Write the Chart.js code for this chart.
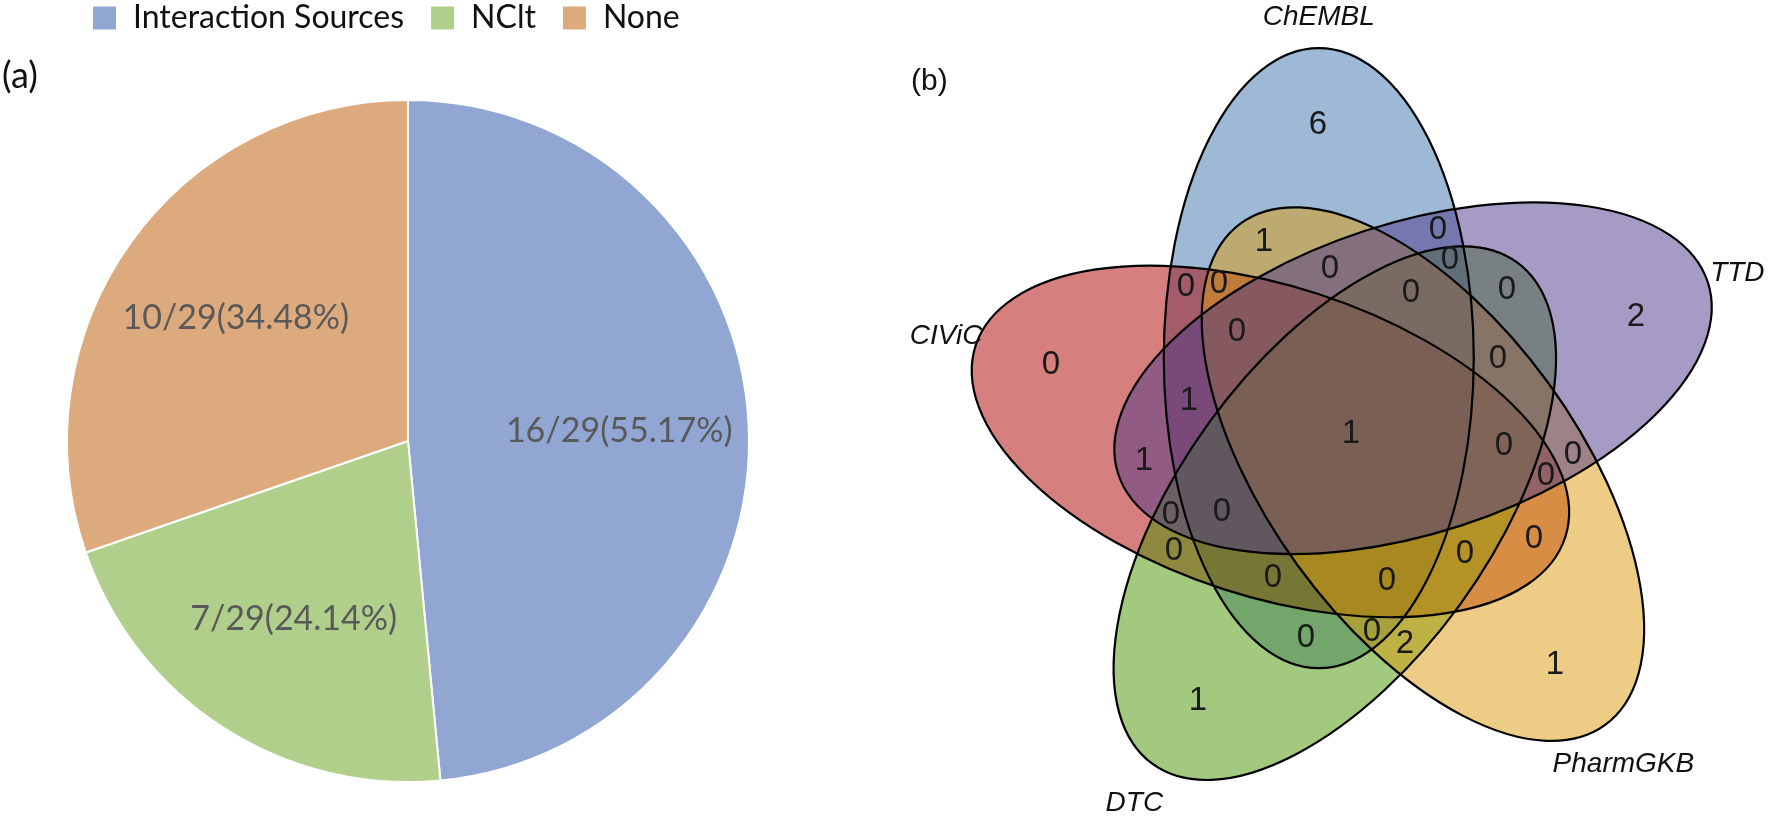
<!DOCTYPE html>
<html lang="en">
<head>
<meta charset="utf-8" />
<title>Drug interaction sources</title>
<script src="https://cdn.jsdelivr.net/npm/chart.js"></script>
<style>
  html, body { margin: 0; padding: 0; background: #fff; }
  #wrap { position: relative; width: 1772px; height: 820px; overflow: hidden; }
  #pie { position: absolute; left: 0; top: 0; }
  #venn { position: absolute; left: 744px; top: 0; }
  .tag { position: absolute; color: #111; white-space: nowrap; }
  #tagA { left: 2px; top: 52px; font: 36px Lato, sans-serif; }
  #tagB { left: 911px; top: 63px; font: 30px "Liberation Sans", Arial, sans-serif; }
</style>
</head>
<body>
<div id="wrap">
  <canvas id="pie" width="760" height="838"></canvas>
  <canvas id="venn" width="1028" height="820"></canvas>
  <div class="tag" id="tagA">(a)</div>
  <div class="tag" id="tagB">(b)</div>
</div>
<script>
// (a) pie
const pieLabels = ['Interaction Sources', 'NClt', 'None'];
const pieCounts = [16, 7, 10];
const drugTotal = 29;
const pieColors = ['#92A6D4', '#B0CF8B', '#DDAA7E'];

// (b) venn, one count per region (sets joined by &)
const setNames = ['ChEMBL', 'TTD', 'PharmGKB', 'DTC', 'CIViC'];
const regionNames = [
  'ChEMBL', 'TTD', 'PharmGKB', 'DTC', 'CIViC',
  'ChEMBL&TTD', 'ChEMBL&PharmGKB', 'ChEMBL&DTC', 'ChEMBL&CIViC', 'TTD&PharmGKB',
  'TTD&DTC', 'TTD&CIViC', 'PharmGKB&DTC', 'PharmGKB&CIViC', 'DTC&CIViC',
  'ChEMBL&TTD&PharmGKB', 'ChEMBL&TTD&DTC', 'ChEMBL&TTD&CIViC', 'ChEMBL&PharmGKB&DTC', 'ChEMBL&PharmGKB&CIViC',
  'ChEMBL&DTC&CIViC', 'TTD&PharmGKB&DTC', 'TTD&PharmGKB&CIViC', 'TTD&DTC&CIViC', 'PharmGKB&DTC&CIViC',
  'ChEMBL&TTD&PharmGKB&DTC', 'ChEMBL&TTD&PharmGKB&CIViC', 'ChEMBL&TTD&DTC&CIViC', 'ChEMBL&PharmGKB&DTC&CIViC', 'TTD&PharmGKB&DTC&CIViC',
  'ChEMBL&TTD&PharmGKB&DTC&CIViC'
];
const regionCounts = [
  6, 2, 1, 1, 0,
  0, 1, 0, 0, 0,
  0, 1, 2, 0, 0,
  0, 0, 1, 0, 0,
  0, 0, 0, 0, 0,
  0, 0, 0, 0, 0,
  1
];

// venn styling / geometry (page pixels)
const setColors = ['rgba(59,115,171,0.5)', 'rgba(77,55,137,0.5)', 'rgba(219,155,11,0.5)', 'rgba(71,147,0,0.5)', 'rgba(173,0,0,0.5)'];
const drawOrder = ['ChEMBL', 'CIViC', 'DTC', 'PharmGKB', 'TTD'];
const vennMid = { x: 1352, y: 433 };
const vennDist = 82, vennTurn = -23.9, semiMinor = 155, semiMajor = 310, nameGap = 31;

const rad = d => d * Math.PI / 180;
const shapes = setNames.map((name, k) => {
  const dir = rad(vennTurn + 72 * k);
  return { name, cx: vennMid.x + vennDist * Math.sin(dir), cy: vennMid.y - vennDist * Math.cos(dir), rot: rad(72 * k) };
});

function local(s, px, py) {
  const dx = px - s.cx, dy = py - s.cy;
  return { u: dx * Math.cos(s.rot) + dy * Math.sin(s.rot), v: -dx * Math.sin(s.rot) + dy * Math.cos(s.rot) };
}

// place each count where its region is widest
function regionSpots() {
  const best = {};
  for (let x = 880; x <= 1770; x += 3) {
    for (let y = 20; y <= 810; y += 3) {
      let mask = 0, clear = Infinity;
      shapes.forEach((s, i) => {
        const { u, v } = local(s, x, y);
        const F = Math.hypot(u / semiMinor, v / semiMajor);
        if (F < 1) mask |= 1 << i;
        const g = Math.hypot(u / (semiMinor * semiMinor), v / (semiMajor * semiMajor)) / Math.max(F, 1e-6);
        clear = Math.min(clear, Math.abs(F - 1) / Math.max(g, 1e-9));
      });
      if (mask && (!best[mask] || clear > best[mask].clear)) best[mask] = { x, y, clear };
    }
  }
  return best;
}
const spots = regionSpots();
const regionPoints = regionNames.map((key, i) => {
  const mask = key.split('&').reduce((m, n) => m | (1 << setNames.indexOf(n)), 0);
  const p = spots[mask] || { x: vennMid.x, y: vennMid.y };
  return { x: p.x, y: p.y, n: regionCounts[i] };
});

const pieValueLabels = {
  id: 'pieValueLabels',
  afterDatasetsDraw(chart) {
    const ctx = chart.ctx;
    ctx.save();
    ctx.font = '34px Lato, sans-serif';
    ctx.fillStyle = '#595959';
    ctx.textAlign = 'center';
    ctx.textBaseline = 'middle';
    chart.getDatasetMeta(0).data.forEach((arc, i) => {
      const mid = (arc.startAngle + arc.endAngle) / 2;
      const r = arc.outerRadius * 0.62;
      const v = pieCounts[i];
      ctx.fillText(v + '/' + drugTotal + '(' + (v / drugTotal * 100).toFixed(2) + '%)',
        arc.x + Math.cos(mid) * r, arc.y + Math.sin(mid) * r);
    });
    ctx.restore();
  }
};

new Chart(document.getElementById('pie'), {
  type: 'pie',
  data: {
    labels: pieLabels,
    datasets: [{
      data: pieCounts,
      backgroundColor: pieColors,
      borderColor: '#fff',
      borderWidth: 2,
      radius: 341,
      clip: false
    }]
  },
  options: {
    responsive: false,
    animation: false,
    layout: { padding: { left: 66, right: 10, top: -24, bottom: 0 } },
    plugins: {
      tooltip: { enabled: false },
      legend: {
        position: 'top',
        align: 'start',
        labels: { boxWidth: 25, boxHeight: 25, padding: 26, color: '#111', font: { family: 'Lato', size: 32 } }
      }
    }
  },
  plugins: [pieValueLabels]
});

const vennShapes = {
  id: 'vennShapes',
  beforeDatasetsDraw(chart) {
    const { ctx, scales: { x, y } } = chart;
    const k = x.getPixelForValue(1) - x.getPixelForValue(0);
    const path = s => {
      ctx.beginPath();
      ctx.ellipse(x.getPixelForValue(s.cx), y.getPixelForValue(s.cy), semiMinor * k, semiMajor * k, s.rot, 0, Math.PI * 2);
    };
    ctx.save();
    drawOrder.forEach(name => {
      const i = setNames.indexOf(name);
      path(shapes[i]);
      ctx.fillStyle = setColors[i];
      ctx.fill();
    });
    ctx.lineWidth = 2.2;
    ctx.strokeStyle = '#000';
    shapes.forEach(s => { path(s); ctx.stroke(); });

    // set names sit past the far tip of each ellipse, a bit lower for the bottom two
    ctx.font = 'italic 28px "Liberation Sans", Arial, sans-serif';
    ctx.fillStyle = '#111';
    ctx.textAlign = 'center';
    ctx.textBaseline = 'middle';
    shapes.forEach(s => {
      const tx = s.cx + (semiMajor + nameGap) * Math.sin(s.rot);
      const ty = s.cy - (semiMajor + nameGap) * Math.cos(s.rot) + 18 * Math.max(0, -Math.cos(s.rot));
      ctx.fillText(s.name, x.getPixelForValue(tx), y.getPixelForValue(ty));
    });
    ctx.restore();
  },
  afterDatasetsDraw(chart) {
    const ctx = chart.ctx;
    ctx.save();
    ctx.font = '33px "Liberation Sans", Arial, sans-serif';
    ctx.fillStyle = '#1a1a1a';
    ctx.textAlign = 'center';
    ctx.textBaseline = 'middle';
    chart.getDatasetMeta(0).data.forEach((pt, i) => {
      ctx.fillText(String(regionPoints[i].n), pt.x, pt.y);
    });
    ctx.restore();
  }
};

new Chart(document.getElementById('venn'), {
  type: 'scatter',
  data: { datasets: [{ data: regionPoints, pointRadius: 0, clip: false }] },
  options: {
    responsive: false,
    animation: false,
    layout: { padding: 0 },
    scales: {
      x: { type: 'linear', min: 744, max: 1772, display: false },
      y: { type: 'linear', min: 0, max: 820, reverse: true, display: false }
    },
    plugins: { legend: { display: false }, tooltip: { enabled: false } }
  },
  plugins: [vennShapes]
});
</script>
</body>
</html>
